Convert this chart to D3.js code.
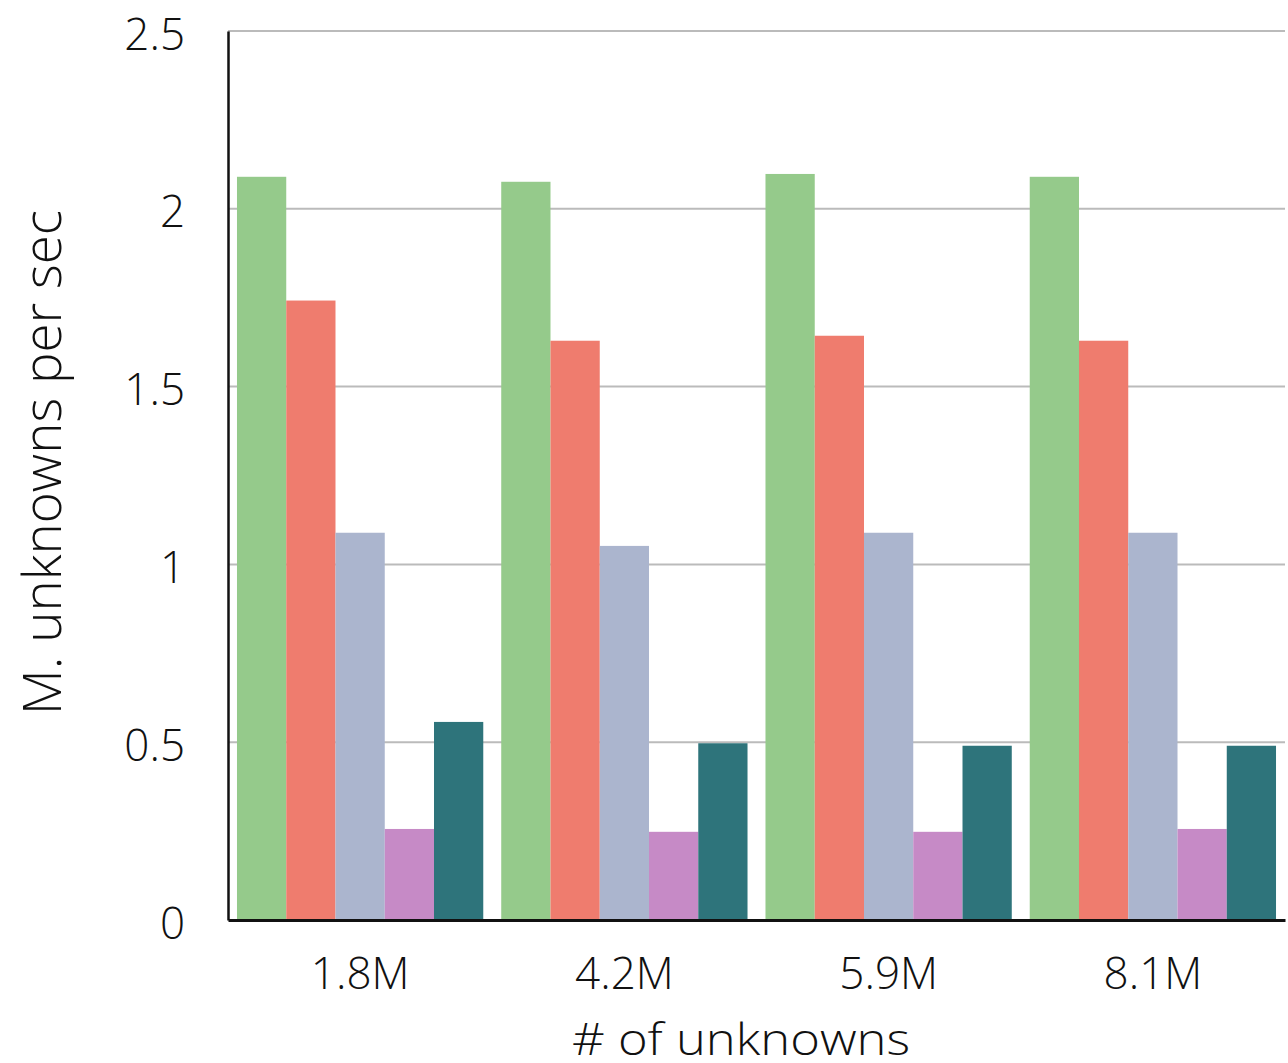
<!DOCTYPE html>
<html>
<head>
<meta charset="utf-8">
<script src="https://cdn.jsdelivr.net/npm/d3@7"></script>
<style>
  html, body { margin: 0; padding: 0; background: #fff; }
  svg text { font-family: "Open Sans", "Liberation Sans", sans-serif; font-weight: 300; fill: #111; }
</style>
</head>
<body>
<svg id="chart" width="1288" height="1063"></svg>
<script>
// Problem sizes (x categories)
const categories = ["1.8M", "4.2M", "5.9M", "8.1M"];
// Five solver variants, one bar each per problem size
const seriesNames = ["s1", "s2", "s3", "s4", "s5"];
const seriesColors = ["#95ca8b", "#ef7c6e", "#abb5ce", "#c68ac6", "#2e747b"];
const s1 = [2.09, 2.076, 2.098, 2.09];
const s2 = [1.742, 1.629, 1.643, 1.629];
const s3 = [1.089, 1.052, 1.089, 1.089];
const s4 = [0.256, 0.248, 0.248, 0.256];
const s5 = [0.557, 0.497, 0.49, 0.49];
const yTicks = [0, 0.5, 1, 1.5, 2, 2.5];
const yTickLabels = ["0", "0.5", "1", "1.5", "2", "2.5"];

const seriesValues = [s1, s2, s3, s4, s5];
const rows = categories.map((c, i) => ({
  cat: c,
  vals: seriesNames.map((s, j) => ({ key: s, value: seriesValues[j][i], color: seriesColors[j] }))
}));

const svg = d3.select("#chart");
const plotLeft = 228, plotRight = 1285, plotTop = 31, plotBottom = 920;

const x0 = d3.scaleBand().domain(categories).range([plotLeft, plotRight])
  .paddingInner(0.068).paddingOuter(0.034);
const x1 = d3.scaleBand().domain(seriesNames).range([0, x0.bandwidth()]);
const y = d3.scaleLinear().domain([0, 2.5]).range([plotBottom, plotTop]);

// horizontal gridlines
svg.append("g")
  .selectAll("line").data(yTicks.filter(d => d > 0)).join("line")
  .attr("x1", plotLeft).attr("x2", plotRight)
  .attr("y1", d => y(d)).attr("y2", d => y(d))
  .attr("stroke", "#bbbbbb").attr("stroke-width", 2);

// bars
svg.append("g")
  .selectAll("g").data(rows).join("g")
  .attr("transform", d => `translate(${x0(d.cat)},0)`)
  .selectAll("rect").data(d => d.vals).join("rect")
  .attr("x", d => x1(d.key))
  .attr("width", x1.bandwidth())
  .attr("y", d => y(d.value))
  .attr("height", d => y(0) - y(d.value))
  .attr("fill", d => d.color);

// y axis
const yAxis = svg.append("g")
  .attr("transform", `translate(${plotLeft},0)`)
  .call(d3.axisLeft(y).tickValues(yTicks).tickFormat((d, i) => yTickLabels[i]).tickSize(0).tickPadding(43));
yAxis.select(".domain").attr("stroke", "#111").attr("stroke-width", 2.5);
yAxis.selectAll("text").attr("font-size", 44).attr("dy", "0.41em")
  .attr("font-family", null);

// x axis
const xAxis = svg.append("g")
  .attr("transform", `translate(0,${plotBottom})`)
  .call(d3.axisBottom(x0).tickSize(0).tickPadding(38));
xAxis.select(".domain").attr("stroke", "#111").attr("stroke-width", 3);
xAxis.selectAll("text").attr("font-size", 44).attr("dy", "0.71em")
  .attr("font-family", null);

svg.selectAll(".tick text").attr("fill", "#111");

// axis titles
svg.append("text")
  .attr("x", 741).attr("y", 1055)
  .attr("text-anchor", "middle").attr("font-size", 45)
  .attr("textLength", 338).attr("lengthAdjust", "spacingAndGlyphs")
  .text("# of unknowns");

svg.append("text")
  .attr("transform", "translate(61,462.5) rotate(-90)")
  .attr("text-anchor", "middle").attr("font-size", 53)
  .attr("textLength", 505).attr("lengthAdjust", "spacingAndGlyphs")
  .text("M. unknowns per sec");
</script>
</body>
</html>
